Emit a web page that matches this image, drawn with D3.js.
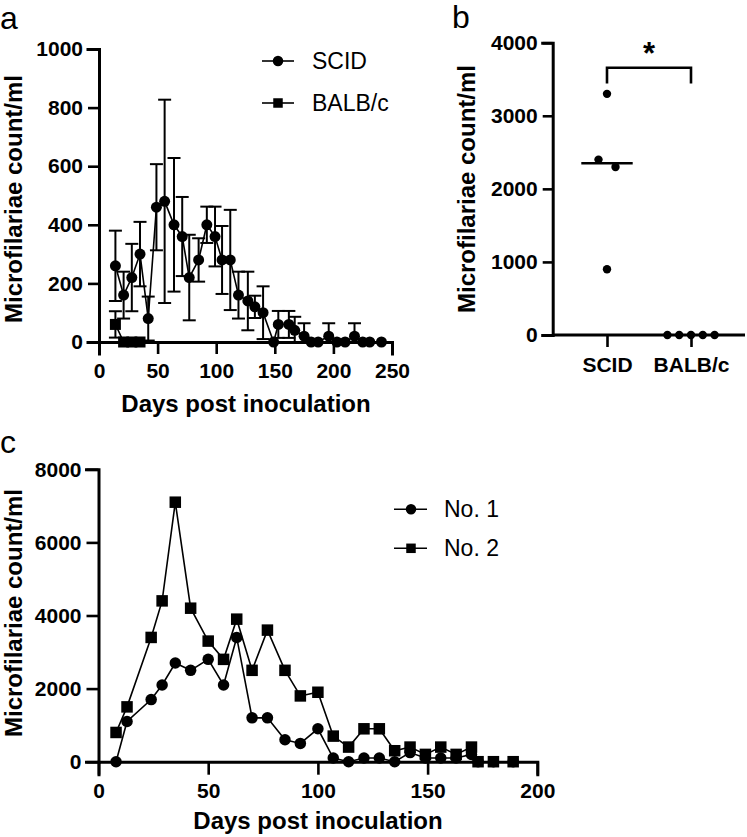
<!DOCTYPE html>
<html>
<head>
<meta charset="utf-8">
<script src="https://cdn.jsdelivr.net/npm/d3@7"></script>
<style>
  html, body { margin: 0; padding: 0; background: #fff; }
  svg { display: block; font-family: "Liberation Sans", Arial, sans-serif; }
</style>
</head>
<body>
<svg id="chart" width="747" height="837"></svg>
<script>
// ---------- Data ----------
// Panel a
const aDays = [14,21,28,35,42,49,56,64,71,77,85,92,99,105,112,119,127,133,140,149,153,162,167,175,181,187,196,203,210,218,225,231,241];
const scidMean = [260,160,220,300,80,460,480,400,360,220,280,400,360,280,280,160,140,120,100,0,60,60,40,20,0,0,20,0,0,20,0,0,0];
const scidSD = [120,80,115,110,75,147,347,228,135,146,74,62,102,116,171,80,100,38,90,0,46,46,46,44,0,0,44,0,0,44,0,0,0];
const balbDays = [14,21,28,35];
const balbMean = [60,0,0,0];
const balbSD = [45,0,0,0];
const aYTicks = [0,200,400,600,800,1000];
const aXTicks = [0,50,100,150,200,250];
const aLegend = ["SCID","BALB/c"];

// Panel b
const bCategories = ["SCID","BALB/c"];
const bScid = [3300,2400,2300,900];
const bBalb = [0,0,0,0,0];
const bYTicks = [0,1000,2000,3000,4000];

// Panel c
const cDays = [8,13,24,29,35,42,50,57,63,70,77,85,92,100,107,114,121,128,135,142,149,156,163,170,173,180,189];
const cNo1 = [0,1100,1700,2100,2700,2500,2800,2100,3400,1200,1200,600,500,900,100,0,100,100,0,250,100,100,100,200,0,0,0];
const cNo2 = [800,1500,3400,4400,7100,4200,3300,2800,3900,2500,3600,2500,1800,1900,700,400,900,900,300,400,200,400,200,400,0,0,0];
const cYTicks = [0,2000,4000,6000,8000];
const cXTicks = [0,50,100,150,200];
const cLegend = ["No. 1","No. 2"];

const yTitle = "Microfilariae count/ml";
const xTitle = "Days post inoculation";

// ---------- Drawing ----------
const svg = d3.select("#chart");
const FONT = "\"Liberation Sans\", Arial, sans-serif";
const fmt = d3.format("d");

function styleAxis(g, fs) {
  g.select(".domain").attr("stroke", "#000").attr("stroke-width", 3).attr("stroke-linecap", "square");
  g.selectAll(".tick line").attr("stroke", "#000").attr("stroke-width", 2.6);
  g.selectAll(".tick text").attr("fill", "#000").style("font-family", FONT)
    .style("font-weight", "bold").style("font-size", fs + "px");
}

function marker(g, shape, x, y, size) {
  if (shape === "circle") {
    g.append("circle").attr("cx", x).attr("cy", y).attr("r", size / 2).attr("fill", "#000");
  } else {
    g.append("rect").attr("x", x - size / 2).attr("y", y - size / 2)
      .attr("width", size).attr("height", size).attr("fill", "#000");
  }
}

function panelLetter(t, x, y) {
  svg.append("text").attr("x", x).attr("y", y).text(t)
    .style("font-size", "32px").style("font-family", FONT).attr("fill", "#000");
}

function yAxisTitle(x, y) {
  svg.append("text").attr("transform", `translate(${x},${y}) rotate(-90)`)
    .attr("text-anchor", "middle").text(yTitle)
    .style("font-size", "24px").style("font-weight", "bold").style("font-family", FONT);
}
function xAxisTitle(x, y) {
  svg.append("text").attr("x", x).attr("y", y)
    .attr("text-anchor", "middle").text(xTitle)
    .style("font-size", "24px").style("font-weight", "bold").style("font-family", FONT);
}

// ===== Panel a =====
{
  const x = d3.scaleLinear().domain([0, 250]).range([99, 392]);
  const y = d3.scaleLinear().domain([0, 1000]).range([342, 49]);
  const gA = svg.append("g");

  const xa = gA.append("g").attr("transform", `translate(0,${y(0)})`)
    .call(d3.axisBottom(x).tickValues(aXTicks).tickFormat(fmt).tickSizeOuter(0).tickSize(12).tickPadding(9));
  styleAxis(xa, 21);
  const ya = gA.append("g").attr("transform", `translate(${x(0)},0)`)
    .call(d3.axisLeft(y).tickValues(aYTicks).tickFormat(fmt).tickSizeOuter(0).tickSize(11).tickPadding(5));
  styleAxis(ya, 21);

  const series = [
    { days: aDays, mean: scidMean, sd: scidSD, shape: "circle", size: 11 },
    { days: balbDays, mean: balbMean, sd: balbSD, shape: "square", size: 11 }
  ];
  const cap = 6.5;
  series.forEach(s => {
    const eg = gA.append("g").attr("stroke", "#000").attr("stroke-width", 2);
    s.days.forEach((d, i) => {
      if (!s.sd[i]) return;
      const top = s.mean[i] + s.sd[i];
      const bot = Math.max(0, s.mean[i] - s.sd[i]);
      eg.append("line").attr("x1", x(d)).attr("x2", x(d)).attr("y1", y(top)).attr("y2", y(bot));
      eg.append("line").attr("x1", x(d) - cap).attr("x2", x(d) + cap).attr("y1", y(top)).attr("y2", y(top));
      if (bot > 0) eg.append("line").attr("x1", x(d) - cap).attr("x2", x(d) + cap).attr("y1", y(bot)).attr("y2", y(bot));
    });
  });
  series.forEach(s => {
    const line = d3.line().x((d, i) => x(d)).y((d, i) => y(s.mean[i]));
    gA.append("path").datum(s.days).attr("d", line).attr("fill", "none")
      .attr("stroke", "#000").attr("stroke-width", 1.6);
    s.days.forEach((d, i) => marker(gA, s.shape, x(d), y(s.mean[i]), s.size));
  });

  // legend
  aLegend.forEach((name, i) => {
    const ly = 61 + i * 42;
    gA.append("line").attr("x1", 262).attr("x2", 294).attr("y1", ly).attr("y2", ly)
      .attr("stroke", "#000").attr("stroke-width", 1.6);
    marker(gA, i === 0 ? "circle" : "square", 278, ly, i === 0 ? 10.5 : 9.5);
    gA.append("text").attr("x", 312).attr("y", ly).attr("dy", "0.35em").text(name)
      .style("font-size", "23px").style("font-family", FONT);
  });

  panelLetter("a", 0, 29);
  yAxisTitle(22, 199);
  xAxisTitle(246, 412);
}

// ===== Panel b =====
{
  const y = d3.scaleLinear().domain([0, 4000]).range([335, 42.7]);
  const x = d3.scalePoint().domain(bCategories).range([607, 691]);
  const gB = svg.append("g");
  const axisLeftX = 552.7, axisRightX = 745;

  gB.append("line").attr("x1", axisLeftX).attr("x2", axisRightX).attr("y1", y(0)).attr("y2", y(0))
    .attr("stroke", "#000").attr("stroke-width", 3);
  const xa = gB.append("g").attr("transform", `translate(0,${y(0)})`)
    .call(d3.axisBottom(x).tickSizeOuter(0).tickSize(12).tickPadding(10));
  xa.select(".domain").remove();
  styleAxis(xa, 21);

  const ya = gB.append("g").attr("transform", `translate(${axisLeftX},0)`)
    .call(d3.axisLeft(y).tickValues(bYTicks).tickFormat(fmt).tickSizeOuter(0).tickSize(10).tickPadding(5));
  styleAxis(ya, 21);

  const r = 4.2;
  function spread(vals) {
    const sorted = vals.map((v, i) => ({ v, i })).sort((a, b) => b.v - a.v);
    const rows = [];
    sorted.forEach(p => {
      const last = rows[rows.length - 1];
      if (last && Math.abs(y(last[0].v) - y(p.v)) < 2 * r) last.push(p); else rows.push([p]);
    });
    const out = [];
    rows.forEach(row => {
      const step = row.length === 2 ? 17 : 11.8;
      row.forEach((p, k) => out.push({ v: p.v, dx: (k - (row.length - 1) / 2) * step }));
    });
    return out;
  }
  [[bCategories[0], bScid], [bCategories[1], bBalb]].forEach(([cat, vals]) => {
    spread(vals).forEach(p => {
      gB.append("circle").attr("cx", x(cat) + p.dx).attr("cy", y(p.v)).attr("r", r).attr("fill", "#000");
    });
  });
  const med = d3.median(bScid);
  gB.append("line").attr("x1", x(bCategories[0]) - 25.7).attr("x2", x(bCategories[0]) + 25.7)
    .attr("y1", y(med)).attr("y2", y(med)).attr("stroke", "#000").attr("stroke-width", 2.6);

  const bracketTop = 3657, bracketLeg = 3443;
  gB.append("path")
    .attr("d", `M${x(bCategories[0])},${y(bracketLeg)}V${y(bracketTop)}H${x(bCategories[1])}V${y(bracketLeg)}`)
    .attr("fill", "none").attr("stroke", "#000").attr("stroke-width", 2.6);
  gB.append("text").attr("x", (x(bCategories[0]) + x(bCategories[1])) / 2).attr("y", 64)
    .attr("text-anchor", "middle").text("*")
    .style("font-size", "31px").style("font-weight", "bold").style("font-family", FONT);

  panelLetter("b", 452, 28);
  yAxisTitle(475, 189);
}

// ===== Panel c =====
{
  const x = d3.scaleLinear().domain([0, 200]).range([98.5, 537.3]);
  const y = d3.scaleLinear().domain([0, 8000]).range([761.7, 469.3]);
  const gC = svg.append("g");

  const xa = gC.append("g").attr("transform", `translate(0,${y(0)})`)
    .call(d3.axisBottom(x).tickValues(cXTicks).tickFormat(fmt).tickSizeOuter(0).tickSize(13).tickPadding(8));
  styleAxis(xa, 21);
  const ya = gC.append("g").attr("transform", `translate(${x(0)},0)`)
    .call(d3.axisLeft(y).tickValues(cYTicks).tickFormat(fmt).tickSizeOuter(0).tickSize(12).tickPadding(5));
  styleAxis(ya, 21);

  const series = [
    { vals: cNo1, shape: "circle", size: 11.5 },
    { vals: cNo2, shape: "square", size: 11.5 }
  ];
  series.forEach(s => {
    const line = d3.line().x(d => x(d)).y((d, i) => y(s.vals[i]));
    gC.append("path").datum(cDays).attr("d", line).attr("fill", "none")
      .attr("stroke", "#000").attr("stroke-width", 1.6);
    cDays.forEach((d, i) => marker(gC, s.shape, x(d), y(s.vals[i]), s.size));
  });

  cLegend.forEach((name, i) => {
    const ly = 509.3 + i * 39;
    gC.append("line").attr("x1", 394).attr("x2", 427).attr("y1", ly).attr("y2", ly)
      .attr("stroke", "#000").attr("stroke-width", 1.6);
    marker(gC, i === 0 ? "circle" : "square", 411, ly, i === 0 ? 10.5 : 9.5);
    gC.append("text").attr("x", 444).attr("y", ly).attr("dy", "0.35em").text(name)
      .style("font-size", "23px").style("font-family", FONT);
  });

  panelLetter("c", 0, 453);
  yAxisTitle(22, 613);
  xAxisTitle(318, 829);
}
</script>
</body>
</html>
